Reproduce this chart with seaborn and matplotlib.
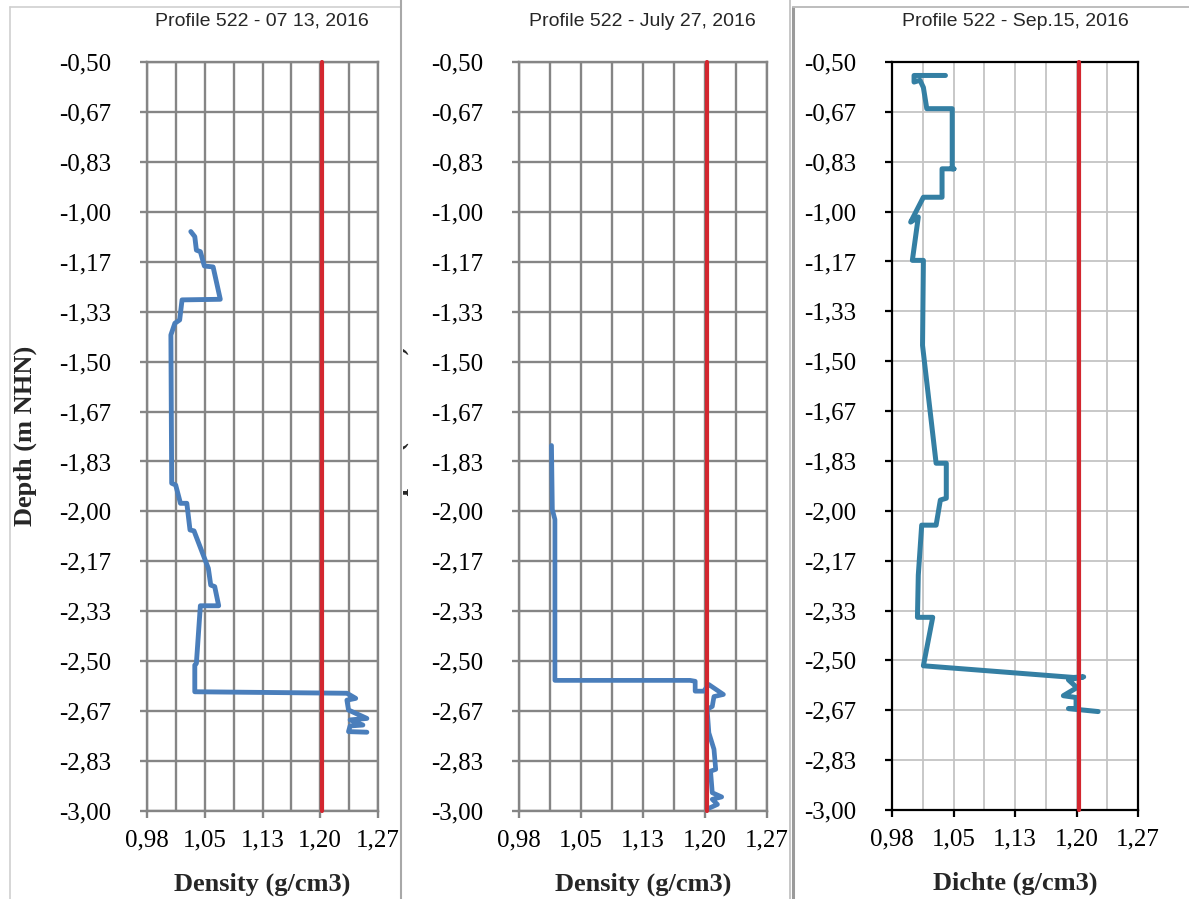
# ==========================================
# Profile 522 - density vs depth, three dates
# ==========================================

import numpy as np
import matplotlib
matplotlib.use("Agg")
import matplotlib.pyplot as plt
import seaborn as sns
from matplotlib.lines import Line2D
from matplotlib.transforms import Bbox

# ------------------------------------------
# Data
# ------------------------------------------

jul13_density = [1.035, 1.040, 1.042, 1.047, 1.052, 1.063, 1.072, 1.024, 1.021,
                 1.015, 1.010, 1.011, 1.016, 1.022, 1.030, 1.034, 1.039, 1.057,
                 1.060, 1.065, 1.070, 1.047, 1.042, 1.040, 1.040, 1.231, 1.242,
                 1.231, 1.233, 1.256, 1.235, 1.251, 1.235, 1.233, 1.256]
jul13_depth = [-1.066, -1.083, -1.128, -1.133, -1.181, -1.184, -1.292, -1.294, -1.361,
               -1.372, -1.411, -1.906, -1.912, -1.973, -1.973, -2.062, -2.065, -2.190,
               -2.246, -2.251, -2.315, -2.315, -2.507, -2.513, -2.602, -2.607, -2.624,
               -2.630, -2.663, -2.691, -2.696, -2.713, -2.716, -2.735, -2.737]

jul27_density = [1.018, 1.019, 1.022, 1.022, 1.022, 1.180, 1.186, 1.186, 1.196,
                 1.202, 1.219, 1.208, 1.206, 1.200, 1.202, 1.208, 1.210, 1.204,
                 1.206, 1.217, 1.206, 1.212, 1.202]
jul27_depth = [-1.780, -1.994, -2.027, -2.483, -2.564, -2.564, -2.567, -2.600, -2.600,
               -2.578, -2.611, -2.618, -2.651, -2.661, -2.739, -2.794, -2.861, -2.867,
               -2.939, -2.953, -2.961, -2.978, -2.991]

sep15_density = [1.043, 1.006, 1.006, 1.013, 1.017, 1.021, 1.051, 1.051, 1.053,
                 1.039, 1.039, 1.017, 1.002, 1.011, 1.004, 1.017, 1.016, 1.032,
                 1.044, 1.044, 1.037, 1.032, 1.015, 1.011, 1.010, 1.028, 1.017,
                 1.194, 1.206, 1.188, 1.198, 1.182, 1.197, 1.197, 1.188, 1.223]
sep15_depth = [-0.545, -0.545, -0.567, -0.561, -0.585, -0.656, -0.656, -0.857, -0.857,
               -0.857, -0.952, -0.952, -1.035, -1.018, -1.163, -1.163, -1.447, -1.841,
               -1.841, -1.958, -1.964, -2.048, -2.048, -2.215, -2.356, -2.356, -2.518,
               -2.557, -2.555, -2.565, -2.591, -2.618, -2.624, -2.661, -2.661, -2.671]

limit_density = [1.20, 1.20]
limit_depth = [-0.50, -3.00]

titles = ["Profile 522 - 07 13, 2016",
          "Profile 522 - July 27, 2016",
          "Profile 522 - Sep.15, 2016"]
xlabels = ["Density (g/cm3)", "Density (g/cm3)", "Dichte (g/cm3)"]

x_tick_labels = ["0,98", "1,05", "1,13", "1,20", "1,27"]
y_tick_labels = ["-0,50", "-0,67", "-0,83", "-1,00", "-1,17", "-1,33", "-1,50", "-1,67",
                 "-1,83", "-2,00", "-2,17", "-2,33", "-2,50", "-2,67", "-2,83", "-3,00"]

# ------------------------------------------
# Style
# ------------------------------------------

sns.set_style("white")
plt.rcParams["font.family"] = ["Liberation Serif", "DejaVu Serif"]

W, H = 1189, 899
fig = plt.figure(figsize=(W / 100, H / 100), dpi=100)

# axes boxes in pixels: left, right, top, bottom
boxes = [(147, 378, 62, 811), (519, 767, 62, 811), (892, 1138, 62, 810)]
title_x = [262, 642, 1015]
xlabel_y = [884, 884, 883]

series = [(jul13_density, jul13_depth, "#4a7ebb", 3.5),
          (jul27_density, jul27_depth, "#4a7ebb", 3.4),
          (sep15_density, sep15_depth, "#347fa3", 3.6)]

x_major = np.linspace(0.98, 1.27, 5)
x_minor = np.linspace(0.98, 1.27, 9)
y_major = np.linspace(-0.5, -3.0, 16)

for i, (l, r, t, b) in enumerate(boxes):
    ax = fig.add_axes([l / W, 1 - b / H, (r - l) / W, (b - t) / H])
    dens, depth, col, lw = series[i]

    sns.lineplot(x=dens, y=depth, sort=False, estimator=None, color=col,
                 linewidth=lw, ax=ax, zorder=3, solid_joinstyle="round")
    sns.lineplot(x=limit_density, y=limit_depth, sort=False, estimator=None,
                 color="#d3262f", linewidth=3.0, ax=ax, zorder=4, clip_on=False)

    ax.set_xlim(0.98, 1.27)
    ax.set_ylim(-3.0, -0.5)
    ax.set_xticks(x_major)
    ax.set_xticklabels(x_tick_labels)
    ax.set_xticks(x_minor, minor=True)
    ax.set_yticks(y_major)
    ax.set_yticklabels(y_tick_labels)
    ax.set_xlabel("")
    ax.set_ylabel("")

    if i < 2:
        gcol = "#858585"
        ax.grid(which="both", axis="x", color=gcol, linewidth=1.7)
        ax.grid(which="major", axis="y", color=gcol, linewidth=1.7)
        for s in ax.spines.values():
            s.set_color(gcol)
            s.set_linewidth(1.7)
        ax.tick_params(axis="both", which="both", direction="out", length=5,
                       width=1.7, color=gcol)
    else:
        ax.grid(which="both", axis="x", color="#c4c4c4", linewidth=1.3)
        ax.grid(which="major", axis="y", color="#c4c4c4", linewidth=1.3)
        for s in ax.spines.values():
            s.set_color("black")
            s.set_linewidth(1.6)
        ax.tick_params(axis="both", which="major", direction="out", length=5,
                       width=1.6, color="black")
        ax.tick_params(axis="x", which="minor", length=0)

    ax.set_axisbelow(True)
    ax.tick_params(axis="y", which="major", labelsize=18, pad=21, labelcolor="black")
    ax.tick_params(axis="x", which="major", labelsize=18, pad=8, labelcolor="black")
    ax.tick_params(left=True, bottom=True)

    fig.text(title_x[i] / W, 1 - 21 / H, titles[i], ha="center", va="center",
             fontsize=14, family=["Liberation Sans", "DejaVu Sans"])
    fig.text((l + r) / 2 / W, 1 - xlabel_y[i] / H, xlabels[i], ha="center",
             va="center", fontsize=19, fontweight="bold")

# y axis title of the first panel
fig.text(25 / W, 1 - 436 / H, "Depth (m NHN)", rotation=90, ha="center",
         va="center", fontsize=19, fontweight="bold")

# y axis title of the second panel, hidden behind the first chart box
hidden = fig.text(397 / W, 1 - 436 / H, "Depth (m NHN)", rotation=90, ha="center",
                  va="center", fontsize=19, fontweight="bold")
hidden.set_clip_box(Bbox.from_extents(403, 0, W, H))
hidden.set_clip_on(True)

# chart box borders
borders = [
    ((10, 10), (7, H), "#cfcfcf", 1.2),
    ((10, 401), (7, 7), "#cfcfcf", 1.2),
    ((401, 401), (0, H), "#a8a8a8", 1.5),
    ((790, 790), (0, H), "#bdbdbd", 1.2),
    ((793, 793), (7, H), "#9a9a9a", 2.2),
    ((793, W), (7, 7), "#bdbdbd", 1.4),
]
for xs, ys, c, w in borders:
    fig.add_artist(Line2D([x / W for x in xs], [1 - y / H for y in ys],
                          transform=fig.transFigure, color=c, linewidth=w))

plt.savefig("out.png", dpi=100)
